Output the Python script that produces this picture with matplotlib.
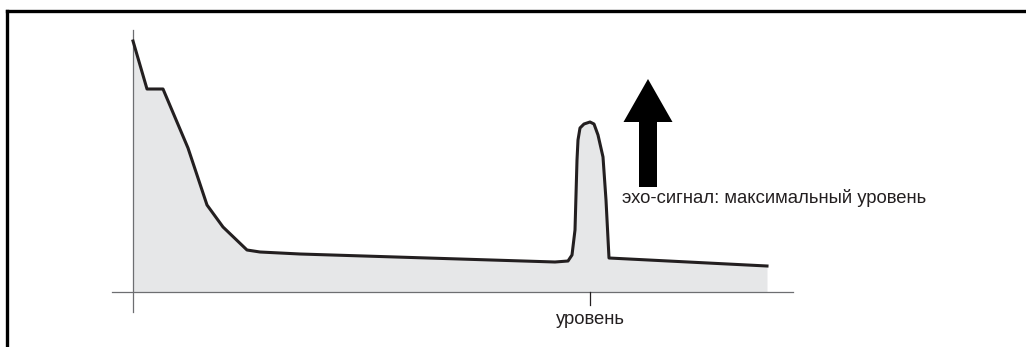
import matplotlib
matplotlib.use("Agg")
import matplotlib.pyplot as plt
from matplotlib.lines import Line2D

plt.rcParams["font.family"] = ["Liberation Sans", "DejaVu Sans"]

# echo curve: distance vs amplitude (arbitrary units)
distance = [0, 14, 30, 55, 74, 90, 114, 127, 167, 422, 435, 439, 442, 444,
            445, 447, 451, 457, 461, 465, 470, 473, 476, 634]
amplitude = [251, 203, 203, 144, 87, 65, 42, 40, 38, 30, 31, 37, 62, 132,
             152, 164, 168, 170, 168, 157, 135, 92, 34, 26]

level_pos = 457
level_label = "уровень"
echo_label = "эхо-сигнал: максимальный уровень"

fig = plt.figure(figsize=(10.26, 3.47), dpi=100)
ax = fig.add_axes([0, 0, 1, 1])
ax.set_xlim(-133, 893)
ax.set_ylim(-55, 292)
ax.axis("off")

# outer frame (left and top only)
fig.add_artist(Line2D([0.0068, 0.0068], [0, 1 - 11 / 347], transform=fig.transFigure,
                      color="black", lw=2.4, solid_capstyle="projecting"))
fig.add_artist(Line2D([0.0068, 1.0], [1 - 11 / 347, 1 - 11 / 347], transform=fig.transFigure,
                      color="black", lw=2.4, solid_capstyle="projecting"))

# axes lines
ax.plot([0, 0], [-20, 262], color="#6d6e71", lw=0.9)
ax.plot([-21, 660], [0, 0], color="#6d6e71", lw=0.9)

# curve with fill
ax.fill_between(distance, amplitude, 0, color="#e6e7e8", lw=0)
ax.plot(distance, amplitude, color="#231f20", lw=2.2, solid_joinstyle="round")

# level tick and label
ax.plot([level_pos, level_pos], [0, -13], color="#231f20", lw=0.9)
ax.text(level_pos, -27, level_label, ha="center", va="center", fontsize=13.3,
        color="#231f20")

# max-level arrow
ax.arrow(515, 105, 0, 108, width=18, head_width=49, head_length=43,
         length_includes_head=True, color="black", lw=0)
ax.text(489, 94, echo_label, ha="left", va="center", fontsize=13.3,
        color="#231f20")

fig.savefig("out.png", dpi=100)
